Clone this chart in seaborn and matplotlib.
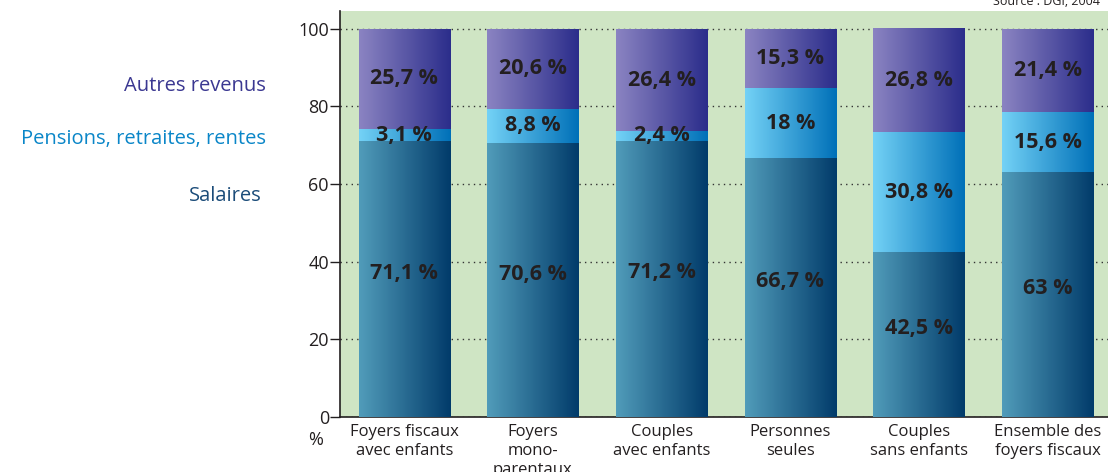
import matplotlib
matplotlib.use("Agg")
import matplotlib.pyplot as plt
import seaborn as sns
import pandas as pd
import numpy as np
from matplotlib.colors import LinearSegmentedColormap

# data
categories = ["Foyers fiscaux\navec enfants", "Foyers\nmono-\nparentaux", "Couples\navec enfants",
              "Personnes\nseules", "Couples\nsans enfants", "Ensemble des\nfoyers fiscaux"]
salaires = [71.1, 70.6, 71.2, 66.7, 42.5, 63]
pensions = [3.1, 8.8, 2.4, 18, 30.8, 15.6]
autres = [25.7, 20.6, 26.4, 15.3, 26.8, 21.4]
yticks = [0, 20, 40, 60, 80, 100]

df = pd.DataFrame({"cat": categories, "salaires": salaires,
                   "pensions": pensions, "autres": autres})
df["cum1"] = df["salaires"]
df["cum2"] = df["salaires"] + df["pensions"]
df["cum3"] = df["cum2"] + df["autres"]

sns.set_style("white")
plt.rcParams["font.family"] = ["Open Sans", "DejaVu Sans"]
txt = "#231f20"

fig = plt.figure(figsize=(11.08, 4.72), dpi=100)
ax = fig.add_axes([340/1108, 55/472, 772/1108, 406/472])
ax.set_facecolor("#cfe5c4")

# gradients left -> right for each layer
layers = [("cum3", "autres", "#8b84c2", "#2b2d8b", 3),
          ("cum2", "pensions", "#74d2f6", "#0070b8", 4),
          ("cum1", "salaires", "#519cba", "#013b6a", 5)]

grad = np.linspace(0, 1, 256).reshape(1, -1)
for col, name, c0, c1, z in layers:
    n_before = len(ax.patches)
    sns.barplot(x="cat", y=col, data=df, color=c1, width=0.71, ax=ax,
                errorbar=None, zorder=z, edgecolor="none", linewidth=0)
    cmap = LinearSegmentedColormap.from_list(name, [c0, c1])
    for p in ax.patches[n_before:]:
        x0, y0 = p.get_x(), p.get_y()
        w, h = p.get_width(), p.get_height()
        im = ax.imshow(grad, cmap=cmap, aspect="auto", zorder=z + 0.5,
                       extent=(x0, x0 + w, y0, y0 + h), interpolation="bilinear")
        im.set_clip_path(p)

# value labels
for i in range(len(categories)):
    ax.text(i, salaires[i] / 2 + 1.5, f"{salaires[i]:g} %".replace(".", ","),
            ha="center", va="center", fontsize=15.5, fontweight="bold", color=txt, zorder=10)
    ax.text(i, salaires[i] + pensions[i] / 2, f"{pensions[i]:g} %".replace(".", ","),
            ha="center", va="center", fontsize=15.5, fontweight="bold", color=txt, zorder=10)
    ax.text(i, 100 - autres[i] / 2, f"{autres[i]:g} %".replace(".", ","),
            ha="center", va="center", fontsize=15.5, fontweight="bold", color=txt, zorder=10)

ax.set_xlim(-0.5, len(categories) - 0.5)
ax.set_ylim(0, 104.6)
ax.set_yticks(yticks)
ax.set_yticklabels([str(v) for v in yticks], fontsize=13, color=txt)
ax.set_xticks(range(len(categories)))
ax.set_xticklabels(categories, fontsize=12, color=txt, linespacing=1.25)
ax.set_xticks(np.arange(-0.5, len(categories) - 0.5, 1), minor=True)
ax.tick_params(axis="x", which="major", length=0, pad=5)
ax.tick_params(axis="x", which="minor", length=7, direction="inout", color=txt, width=1)
ax.tick_params(axis="y", length=7, direction="out", color=txt, width=1, left=True, pad=1)
ax.set_xlabel("")
ax.set_ylabel("")
ax.grid(axis="y", color="#333333", linestyle=(0, (1, 3)), linewidth=1)
ax.set_axisbelow(True)
for s in ["top", "right"]:
    ax.spines[s].set_visible(False)
for s in ["left", "bottom"]:
    ax.spines[s].set_color(txt)
    ax.spines[s].set_linewidth(1.2)

# side legend texts
fig.text(266/1108, 1 - 86/472, "Autres revenus", ha="right", va="center",
         fontsize=14.5, color="#3a3791")
fig.text(266/1108, 1 - 139/472, "Pensions, retraites, rentes", ha="right", va="center",
         fontsize=14.5, color="#0a86c8")
fig.text(262/1108, 1 - 196/472, "Salaires", ha="right", va="center",
         fontsize=14.5, color="#1b4c79")

fig.text(316/1108, 1 - 440/472, "%", ha="center", va="center", fontsize=13, color=txt)
fig.text(993/1108, 1 - 5/472, "Source : DGI, 2004", ha="left", va="baseline",
         fontsize=9, color=txt)

fig.savefig("out.png", dpi=100)
